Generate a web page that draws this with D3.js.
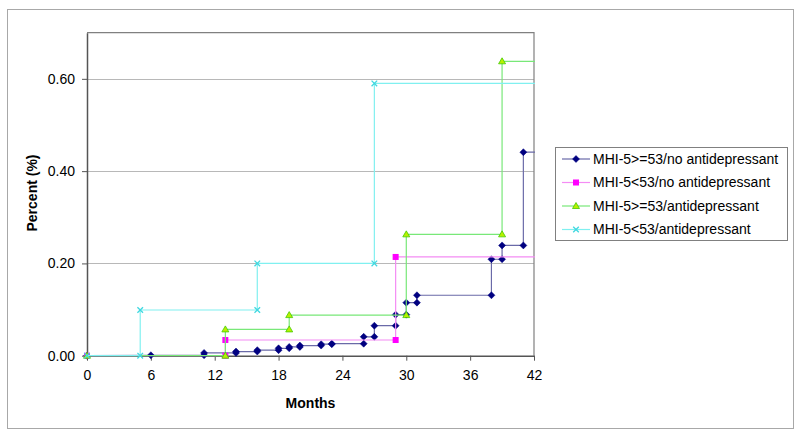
<!DOCTYPE html>
<html><head><meta charset="utf-8">
<script src="https://cdn.jsdelivr.net/npm/d3@7"></script>
<style>body{margin:0;background:#fff}text{font-family:"Liberation Sans",Arial,sans-serif}</style>
</head><body><svg id="c" width="800" height="437"></svg>
<script>
// Data (month, cumulative percent) as plotted step points
const seriesNames = ["MHI-5>=53/no antidepressant","MHI-5<53/no antidepressant","MHI-5>=53/antidepressant","MHI-5<53/antidepressant"];
const blueMonths = [0,6,11,11,14,14,16,16,18,18,19,19,20,20,22,22,23,23,26,26,27,27,29,29,30,30,31,31,38,38,39,39,41,41,44];
const blueValues = [0,0.001,0.001,0.006,0.006,0.009,0.009,0.012,0.012,0.016,0.016,0.019,0.019,0.022,0.022,0.025,0.025,0.026,0.026,0.041,0.041,0.065,0.065,0.089,0.089,0.115,0.115,0.131,0.131,0.209,0.209,0.239,0.239,0.441,0.441];
const magentaMonths = [0,13,13,29,29,44];
const magentaValues = [0,0,0.034,0.034,0.214,0.214];
const greenMonths = [0,13,13,19,19,30,30,39,39,44];
const greenValues = [0,0,0.057,0.057,0.088,0.088,0.263,0.263,0.638,0.638];
const cyanMonths = [0,5,5,16,16,27,27,44];
const cyanValues = [0,0,0.099,0.099,0.2,0.2,0.59,0.59];
const xTicks = [0,6,12,18,24,30,36,42];
const yTicks = [0,0.2,0.4,0.6];

const styles = [
  {line:"#6a6aa8", marker:"diamond", fill:"#000080", stroke:"#000080"},
  {line:"#f48cf4", marker:"square", fill:"#ff00ff", stroke:"#ff00ff"},
  {line:"#78e878", marker:"triangle", fill:"#b8f000", stroke:"#44cc00"},
  {line:"#80f0f0", marker:"cross", fill:"none", stroke:"#40d8e0"}
];
const data = [
  blueMonths.map((m,i)=>({x:m,y:blueValues[i]})),
  magentaMonths.map((m,i)=>({x:m,y:magentaValues[i]})),
  greenMonths.map((m,i)=>({x:m,y:greenValues[i]})),
  cyanMonths.map((m,i)=>({x:m,y:cyanValues[i]}))
];

const svg = d3.select("#c");
const L=87, R=534, T=32.7, B=355.7;
const x = d3.scaleLinear().domain([0,42]).range([L,R]);
const y = d3.scaleLinear().domain([0,0.7]).range([B,T]);

svg.append("rect").attr("x",7.5).attr("y",9.5).attr("width",786).attr("height",419)
  .attr("fill","#fff").attr("stroke","#a8a8a8").attr("stroke-width",1);

// gridlines
svg.append("g").selectAll("line").data(yTicks.filter(d=>d>0)).join("line")
  .attr("x1",L).attr("x2",R).attr("y1",d=>Math.round(y(d))+0.5).attr("y2",d=>Math.round(y(d))+0.5)
  .attr("stroke","#b8b8b8").attr("stroke-width",1);

// plot border top/right
svg.append("path").attr("d",`M${L},${T}H${R}V${B}`).attr("fill","none").attr("stroke","#808080").attr("stroke-width",1.2);

// axes
const xAxis = svg.append("g").attr("transform",`translate(0,${B})`)
  .call(d3.axisBottom(x).tickValues(xTicks).tickSize(5).tickSizeOuter(0).tickFormat(d3.format("d")));
const yAxis = svg.append("g").attr("transform",`translate(${L},0)`)
  .call(d3.axisLeft(y).tickValues(yTicks).tickSize(5).tickSizeOuter(0).tickFormat(d3.format(".2f")));
[xAxis,yAxis].forEach(a=>{
  a.select(".domain").attr("stroke","#555").attr("stroke-width",1.5);
  a.selectAll(".tick line").attr("stroke","#555");
  a.selectAll("text").attr("font-size",14).attr("fill","#000").attr("font-family","Liberation Sans, Arial, sans-serif");
});
xAxis.selectAll("text").attr("y",14);
yAxis.selectAll("text").attr("x",-12);

svg.append("text").attr("x",(L+R)/2).attr("y",408).attr("text-anchor","middle")
  .attr("font-size",14).attr("font-weight","bold").text("Months");
svg.append("text").attr("transform",`translate(37,193) rotate(-90)`).attr("text-anchor","middle")
  .attr("font-size",14).attr("font-weight","bold").text("Percent (%)");

// clip
svg.append("clipPath").attr("id","pc").append("rect").attr("x",L).attr("y",T).attr("width",R-L+1).attr("height",B-T+1);

function marker(g, type, st, cx, cy){
  if(type==="diamond"){
    g.append("path").attr("d",`M${cx},${cy-3.5}L${cx+3.5},${cy}L${cx},${cy+3.5}L${cx-3.5},${cy}Z`).attr("fill",st.fill).attr("stroke",st.stroke).attr("stroke-width",0.5);
  } else if(type==="square"){
    g.append("rect").attr("x",cx-3).attr("y",cy-3).attr("width",6).attr("height",6).attr("fill",st.fill);
  } else if(type==="triangle"){
    g.append("path").attr("d",`M${cx},${cy-3.5}L${cx+3.5},${cy+2.5}L${cx-3.5},${cy+2.5}Z`).attr("fill",st.fill).attr("stroke",st.stroke).attr("stroke-width",0.8);
  } else {
    g.append("path").attr("d",`M${cx-2.8},${cy-2.8}L${cx+2.8},${cy+2.8}M${cx+2.8},${cy-2.8}L${cx-2.8},${cy+2.8}`).attr("stroke",st.stroke).attr("stroke-width",1.3).attr("fill","none");
  }
}

const line = d3.line().x(d=>x(d.x)).y(d=>y(d.y));
data.forEach((pts,i)=>{
  const st = styles[i];
  const g = svg.append("g");
  g.append("path").attr("d",line(pts)).attr("fill","none").attr("stroke",st.line).attr("stroke-width",1.2).attr("clip-path","url(#pc)");
  pts.filter(p=>p.x<=42).forEach(p=>marker(g, st.marker, st, x(p.x), y(p.y)));
});

// legend
const lg = svg.append("g");
lg.append("rect").attr("x",555.5).attr("y",147.5).attr("width",232).attr("height",93)
  .attr("fill","#fff").attr("stroke","#808080").attr("stroke-width",1);
seriesNames.forEach((n,i)=>{
  const yy = 159 + i*23.5;
  const st = styles[i];
  lg.append("line").attr("x1",562).attr("x2",590).attr("y1",yy).attr("y2",yy).attr("stroke",st.line).attr("stroke-width",1.2);
  marker(lg, st.marker, st, 576, yy);
  lg.append("text").attr("x",593).attr("y",yy).attr("dy","0.35em").attr("font-size",14).text(n);
});
</script></body></html>
